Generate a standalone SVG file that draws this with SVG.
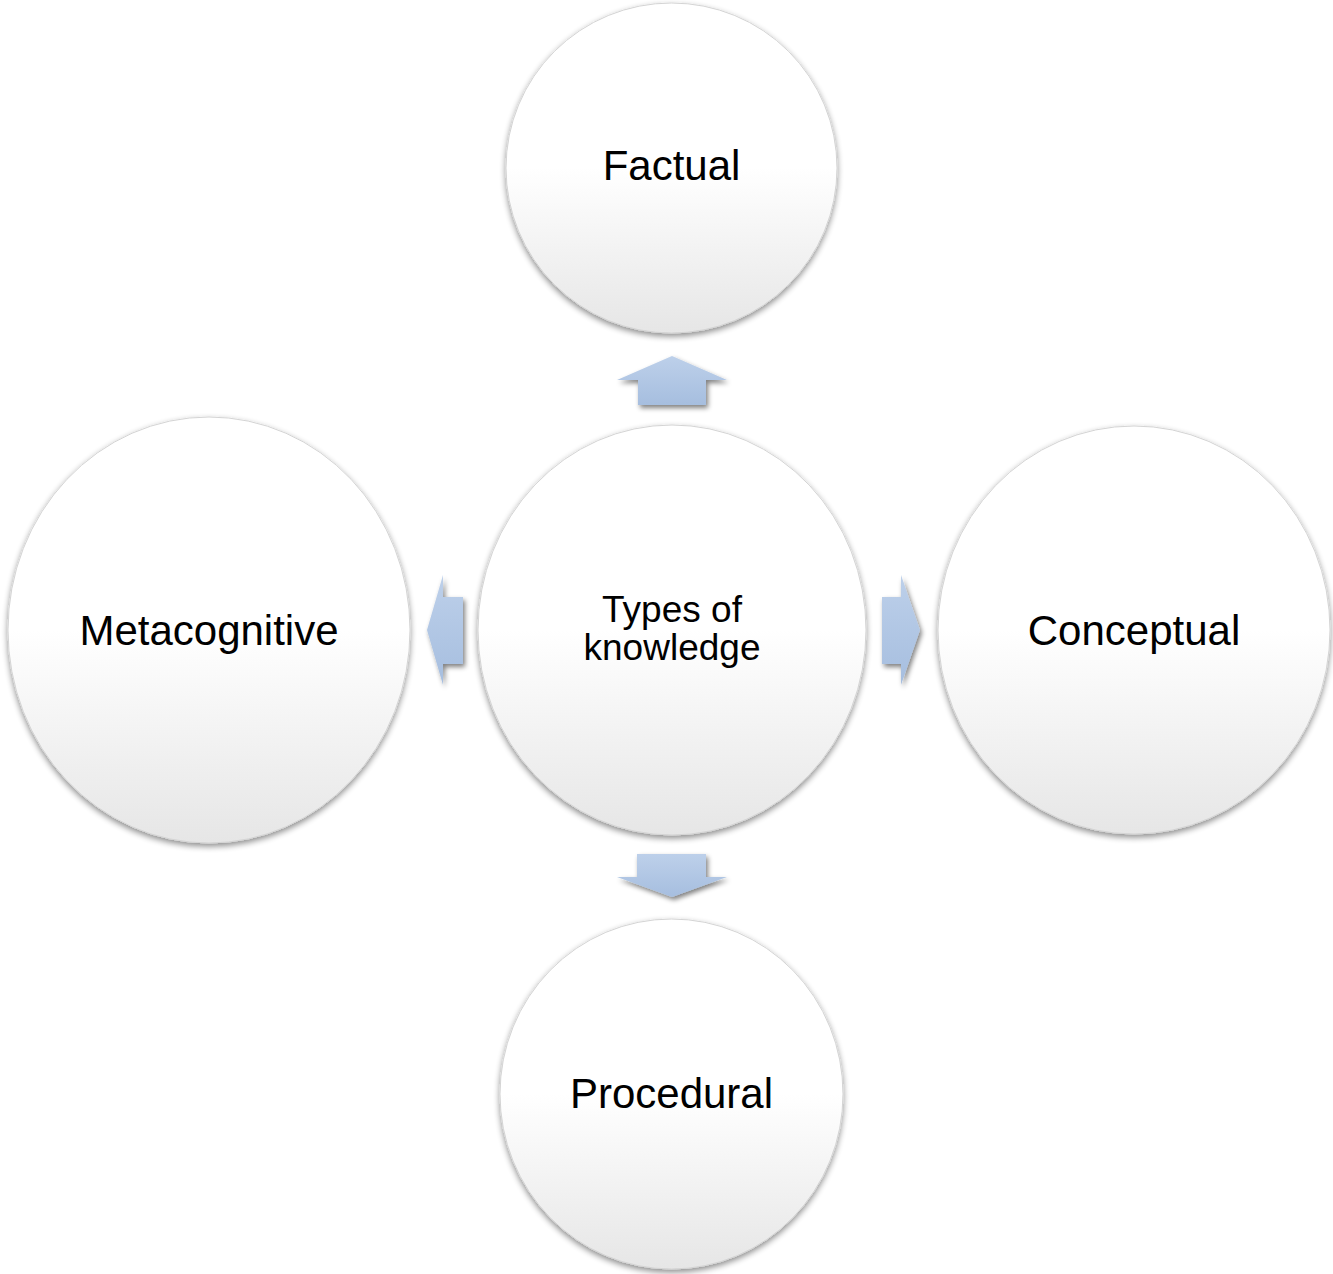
<svg xmlns="http://www.w3.org/2000/svg" width="1333" height="1274" viewBox="0 0 1333 1274">
  <defs>
    <linearGradient id="ballFill" x1="0" y1="0" x2="0" y2="1">
      <stop offset="0" stop-color="#ffffff"/>
      <stop offset="0.5" stop-color="#ffffff"/>
      <stop offset="1" stop-color="#e6e6e6"/>
    </linearGradient>
    <linearGradient id="arrowFillV" x1="0" y1="0" x2="0" y2="1">
      <stop offset="0" stop-color="#bdd0ea"/>
      <stop offset="1" stop-color="#a6bedf"/>
    </linearGradient>
    <filter id="ballShadow" x="-10%" y="-10%" width="120%" height="125%">
      <feGaussianBlur in="SourceAlpha" stdDeviation="3"/>
      <feOffset dx="0" dy="3" result="blur"/>
      <feComponentTransfer><feFuncA type="linear" slope="0.45"/></feComponentTransfer>
      <feMerge><feMergeNode/><feMergeNode in="SourceGraphic"/></feMerge>
    </filter>
    <filter id="arrowShadow" x="-30%" y="-30%" width="160%" height="170%">
      <feGaussianBlur in="SourceAlpha" stdDeviation="2.5"/>
      <feOffset dx="2" dy="3" result="blur"/>
      <feComponentTransfer><feFuncA type="linear" slope="0.5"/></feComponentTransfer>
      <feMerge><feMergeNode/><feMergeNode in="SourceGraphic"/></feMerge>
    </filter>
  </defs>
  <style>
    .ball { fill: url(#ballFill); stroke: #d4d4d4; stroke-width: 1; filter: url(#ballShadow); }
    .arrow { fill: url(#arrowFillV); filter: url(#arrowShadow); }
    .label { font-family: "Liberation Sans", Arial, sans-serif; font-size: 42px; fill: #000000; text-anchor: middle; }
    .hub { font-size: 37px; }
  </style>
  <rect width="1333" height="1274" fill="#ffffff"/>

  <!-- block arrows from the hub to each type -->
  <g id="connectors">
    <polygon class="arrow" points="672,356 727,380 706,380 706,405 638,405 638,380 617,380"/>
    <polygon class="arrow" points="637,854 706,854 706,877 727,877 672,897 617,877 637,877"/>
    <polygon class="arrow" points="427,630 443,575 443,597 463,597 463,664 443,664 443,685"/>
    <polygon class="arrow" points="920,630 901,575 901,597 882,597 882,664 901,664 901,685"/>
  </g>

  <g id="hub">
    <ellipse class="ball" cx="672" cy="630" rx="194" ry="205"/>
    <text class="label hub" x="672" y="622">Types of</text>
    <text class="label hub" x="672" y="660">knowledge</text>
  </g>

  <g id="factual">
    <ellipse class="ball" cx="671.5" cy="168" rx="165.5" ry="165"/>
    <text class="label" x="671.5" y="180">Factual</text>
  </g>

  <g id="metacognitive">
    <ellipse class="ball" cx="209" cy="630" rx="201" ry="213"/>
    <text class="label" x="209" y="645">Metacognitive</text>
  </g>

  <g id="conceptual">
    <ellipse class="ball" cx="1134" cy="630" rx="196" ry="204"/>
    <text class="label" x="1134" y="645">Conceptual</text>
  </g>

  <g id="procedural">
    <ellipse class="ball" cx="671.5" cy="1094" rx="171.5" ry="175"/>
    <text class="label" x="671.5" y="1108">Procedural</text>
  </g>
</svg>
